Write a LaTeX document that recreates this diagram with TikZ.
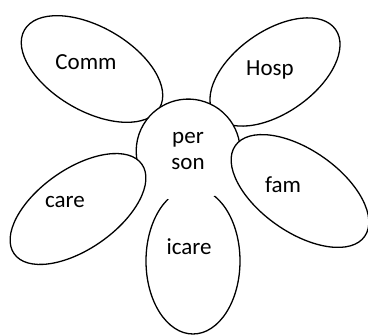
\documentclass[tikz,border=0pt]{standalone}
\usepackage{fontspec}
\setmainfont{Carlito}
\usetikzlibrary{shapes.geometric}
\tikzset{
  petal/.style={ellipse, draw=black, fill=white, line width=1.3pt, inner sep=0},
  word/.style={font=\fontsize{23}{27}\selectfont, align=center}
}
\begin{document}
\begin{tikzpicture}[x=1pt,y=1pt]

\useasboundingbox (0,0) rectangle (368,-336);

\node[petal, rotate=-30, minimum width=156pt, minimum height=84pt] (comm) at (92,-69) {};
\node[petal, rotate=35, minimum width=148pt, minimum height=82pt] (hosp) at (275,-72) {};
\node[petal, minimum width=94pt, minimum height=146pt] (icare) at (193,-261) {};

\node[circle, fill=white, minimum size=104pt, inner sep=0] (person) at (188,-151) {};
\draw[line width=1.3pt] (person.-25) arc[start angle=-25, end angle=205, radius=52pt];

\node[petal, rotate=35, minimum width=156pt, minimum height=80pt] (care) at (78,-209) {};
\node[petal, rotate=-35, minimum width=158pt, minimum height=82pt] (fam) at (300,-191) {};

\node[word] (commtext) at (86,-62) {Comm};
\node[word] (hosptext) at (270,-70) {Hosp};
\node[word] (caretext) at (65,-202) {care};
\node[word] (famtext) at (283,-185) {fam};
\node[word] (icaretext) at (189,-247) {icare};
\node[word] (pertext) at (188,-140) {per};
\node[word] (sontext) at (188,-164) {son};

\end{tikzpicture}
\end{document}
